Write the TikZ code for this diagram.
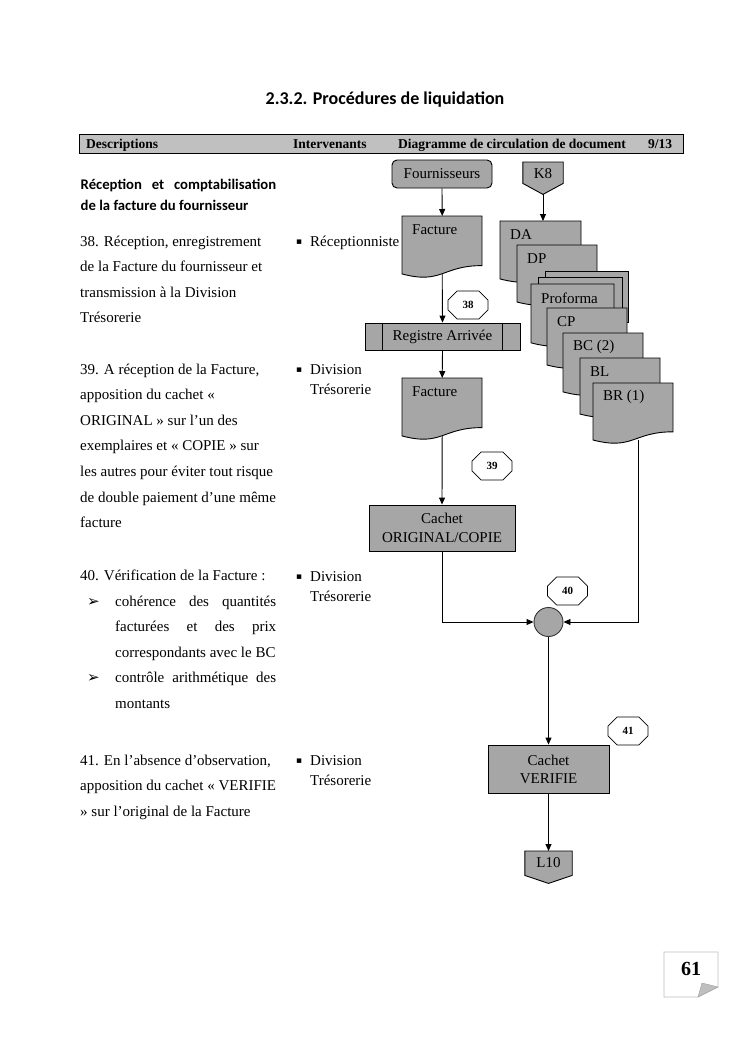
\documentclass[tikz,border=0pt]{standalone}
\usepackage{fontspec}
\setmainfont{Liberation Serif}
\newfontfamily\calib{Carlito}
\newfontfamily\djv{DejaVu Sans}
\usetikzlibrary{shapes.misc,arrows.meta,calc}
\definecolor{ngray}{RGB}{166,166,166}
\definecolor{hgray}{RGB}{192,192,192}
\newcommand{\fsz}{\fontsize{15}{17.5}\selectfont}
\newcommand{\docu}[6]{%
  \filldraw[docline] (#2,#3) -- ({#2+#4},#3) -- ({#2+#4},{#3+0.8*#5}) .. controls ({#2+0.5*#4},{#3+0.8*#5}) and ({#2+0.5*#4},{#3+1.107*#5}) .. (#2,{#3+0.934*#5}) -- cycle;
  \node[inner sep=0, minimum width=#4, minimum height={0.932*#5}, anchor=north west] (#1) at (#2,#3) {};
  \node[doclbl] (#1-t) at ({#2+10},{#3+14}) {#6};
}
\begin{document}
\begin{tikzpicture}[x=1pt,y=-1pt,
  docline/.style={draw=black, fill=ngray, line width=0.9pt},
  doclbl/.style={anchor=west, inner sep=0, font=\fsz},
  box/.style={draw=black, line width=0.9pt, fill=ngray, font=\fsz, inner sep=0, align=center},
  numoct/.style={chamfered rectangle, chamfered rectangle xsep=7pt, chamfered rectangle ysep=7pt, draw=black, line width=0.7pt, fill=white, minimum width=40, minimum height=28, inner sep=0, font=\bfseries\fontsize{11}{12}\selectfont},
  arr/.style={-{Triangle[length=7pt,width=6pt]}, line width=0.9pt},
  ln/.style={line width=0.9pt},
  txt/.style={anchor=base west, inner sep=0, font=\fsz},
  hd/.style={anchor=base west, inner sep=0, font=\bfseries\fontsize{13.5}{15}\selectfont},
  sec/.style={anchor=base west, inner sep=0, font=\calib\bfseries\fontsize{14.7}{16}\selectfont},
  bul/.style={anchor=base west, inner sep=0, font=\djv\fontsize{9}{9}\selectfont},
  arrbul/.style={anchor=base west, inner sep=0, font=\djv\fontsize{15}{15}\selectfont}
]
\useasboundingbox[fill=white] (0,0) rectangle (744,1053);

% title
\node[anchor=base, inner sep=0, font=\calib\bfseries\fontsize{18}{20}\selectfont] (title) at (385,104) {2.3.2. Procédures de liquidation};

% header bar
\node[draw=black, fill=hgray, line width=1pt, minimum width=604, minimum height=19, inner sep=0, anchor=north west] (bar) at (79,134) {};
\node[hd] (h1) at (86,148) {Descriptions};
\node[hd] (h2) at (293,148) {Intervenants};
\node[hd] (h3) at (398,148) {Diagramme de circulation de document};
\node[hd] (h4) at (648,148) {9/13};

% section heading
\node[sec] (s1) at (80.5,189) {\makebox[195.5pt][s]{Réception et comptabilisation}};
\node[sec] (s2) at (80.5,210.5) {de la facture du fournisseur};

% 38
\node[txt] (t38a) at (80,246) {38. Réception, enregistrement};
\node[txt] (t38b) at (80,271.6) {de la Facture du fournisseur et};
\node[txt] (t38c) at (80,297.2) {transmission à la Division};
\node[txt] (t38d) at (80,322.8) {Trésorerie};
% 39
\node[txt] (t39a) at (80,374) {39. A réception de la Facture,};
\node[txt] (t39b) at (80,399.6) {apposition du cachet «};
\node[txt] (t39c) at (80,425.2) {ORIGINAL » sur l’un des};
\node[txt] (t39d) at (80,450.8) {exemplaires et « COPIE » sur};
\node[txt] (t39e) at (80,476.4) {les autres pour éviter tout risque};
\node[txt] (t39f) at (80,502) {de double paiement d’une même};
\node[txt] (t39g) at (80,527.6) {facture};
% 40
\node[txt] (t40a) at (80,580.7) {40. Vérification de la Facture :};
\node[arrbul] (b40a) at (87,606) {➢};
\node[txt] (t40b) at (115,606) {\makebox[161pt][s]{cohérence des quantités}};
\node[txt] (t40c) at (115,631.5) {\makebox[161pt][s]{facturées et des prix}};
\node[txt] (t40d) at (115,657) {correspondants avec le BC};
\node[arrbul] (b40b) at (87,682.5) {➢};
\node[txt] (t40e) at (115,682.5) {\makebox[161pt][s]{contrôle arithmétique des}};
\node[txt] (t40f) at (115,708) {montants};
% 41
\node[txt] (t41a) at (80,765) {41. En l’absence d’observation,};
\node[txt] (t41b) at (80,790.5) {apposition du cachet « VERIFIE};
\node[txt] (t41c) at (80,816) {» sur l’original de la Facture};

% intervenants
\node[bul] (i1b) at (296,244) {▪};
\node[txt] (i1) at (310,246) {Réceptionniste};
\node[bul] (i2b) at (296,372) {▪};
\node[txt] (i2) at (310,374) {Division};
\node[txt] (i2x) at (310,394.5) {Trésorerie};
\node[bul] (i3b) at (296,579) {▪};
\node[txt] (i3) at (310,581) {Division};
\node[txt] (i3x) at (310,601.5) {Trésorerie};
\node[bul] (i4b) at (296,763) {▪};
\node[txt] (i4) at (310,765) {Division};
\node[txt] (i4x) at (310,785.5) {Trésorerie};

% ---------- diagram ----------
\node[box, rounded corners=5pt, minimum width=100, minimum height=28] (four) at (442,174) {Fournisseurs};

% K8 off-page connector
\node[inner sep=0, minimum width=40, minimum height=21, anchor=north] (k8) at (543,162) {};
\filldraw[docline] (k8.north west) -- (k8.north east) -- (k8.south east) -- ($(k8.south)+(0,11)$) coordinate (k8tip) -- (k8.south west) -- cycle;
\node[inner sep=0, font=\fsz] (k8t) at (543,174) {K8};

% document stack
\docu{da}{500}{221}{81}{62}{DA}
\docu{dp}{517}{245}{80}{61}{DP}
\filldraw[docline] (545,271) rectangle (628,322);
\filldraw[docline] (538,277) rectangle (622,318);
\docu{pro}{531}{284}{83}{63}{Proforma}
\docu{cp}{547}{308}{80}{61}{CP}
\docu{bc}{563}{333}{80}{63}{BC (2)}
\docu{bl}{580}{358}{80}{60}{BL}
\docu{br}{593}{383}{80}{61}{BR (1)}

% Facture documents
\docu{fac1}{402}{216}{80}{62}{Facture}
\docu{fac2}{402}{378}{80}{62}{Facture}

% Registre Arrivée
\node[box, minimum width=155, minimum height=27] (reg) at (442.5,336.5) {Registre Arrivée};
\draw[ln] ([xshift=18pt]reg.north west) -- ([xshift=18pt]reg.south west);
\draw[ln] ([xshift=-18pt]reg.north east) -- ([xshift=-18pt]reg.south east);

% Cachet ORIGINAL/COPIE
\node[box, minimum width=146, minimum height=46, font=\fontsize{15}{18.5}\selectfont] (cori) at (442,528) {Cachet\\ORIGINAL/COPIE};

% junction circle
\node[circle, draw=black!80, line width=0.9pt, fill=ngray, minimum size=29, inner sep=0] (circ) at (548.5,622) {};

% Cachet VERIFIE
\node[box, minimum width=121, minimum height=48, font=\fontsize{15}{18}\selectfont] (cver) at (548.5,769) {Cachet\\VERIFIE};

% L10 off-page connector
\node[inner sep=0, minimum width=47, minimum height=24, anchor=north] (l10) at (548.5,851) {};
\filldraw[docline] (l10.north west) -- (l10.north east) -- (l10.south east) -- ($(l10.south)+(0,8)$) -- (l10.south west) -- cycle;
\node[inner sep=0, font=\fsz] (l10t) at (548.5,863) {L10};

% step numbers
\node[numoct] (n38) at (468,305) {38};
\node[numoct] (n39) at (492,466) {39};
\node[numoct] (n40) at (567.5,591) {40};
\node[numoct] (n41) at (628,731) {41};

% connectors
\draw[arr] (four.south) -- (fac1.north);
\draw[arr] (k8tip) -- (k8tip |- da.north);
\draw[arr] (fac1.south) -- (reg.north);
\draw[arr] (reg.south) -- (fac2.north);
\draw[arr] (fac2.south) -- (cori.north);
\draw[arr] (cori.south) |- (circ.west);
\draw[arr] ([xshift=5pt]br.south) |- (circ.east);
\draw[arr] (circ.south) -- (cver.north);
\draw[arr] (cver.south) -- (l10.north);

% page number
\filldraw[draw=black!25, fill=white, line width=0.8pt] (664,952) -- (718,952) -- (718,987) -- (698,997) -- (664,997) -- cycle;
\filldraw[draw=black!35, fill=black!25, line width=0.5pt] (698,997) -- (718,987) -- (702,983) -- cycle;
\node[inner sep=0, font=\bfseries\fontsize{20}{22}\selectfont] (pg) at (691,969) {61};
\end{tikzpicture}
\end{document}
